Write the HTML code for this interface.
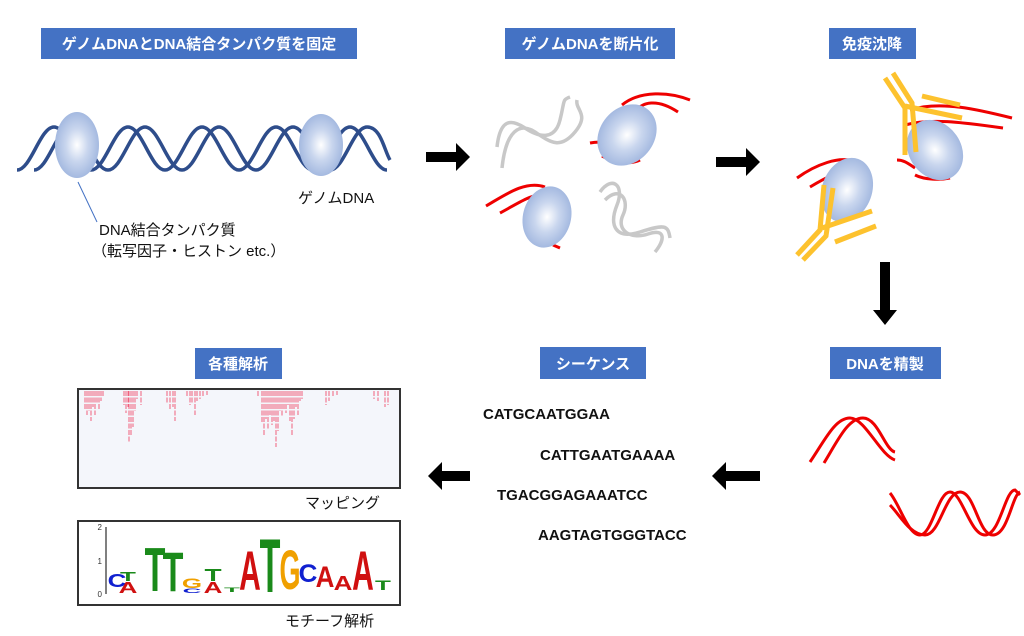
<!DOCTYPE html>
<html><head><meta charset="utf-8"><style>
body{margin:0;background:#fff;width:1024px;height:636px;overflow:hidden}
svg{display:block}
.lb{fill:#4472C4}
.lt{fill:#fff;font:bold 15px "Liberation Sans","Noto Sans CJK JP",sans-serif}
.t{fill:#111;font:15px "Liberation Sans","Noto Sans CJK JP",sans-serif}
.sq{fill:#111;font:bold 15px "Liberation Sans",sans-serif}
.m{font:bold 20px "Liberation Sans",sans-serif;text-anchor:middle}
</style></head><body>
<svg width="1024" height="636" viewBox="0 0 1024 636" xmlns="http://www.w3.org/2000/svg">
<defs>
<radialGradient id="eg" cx="50%" cy="50%" r="50%"><stop offset="0" stop-color="#fff"/><stop offset="0.5" stop-color="#C9D6EE"/><stop offset="1" stop-color="#A4B9E0"/></radialGradient>
</defs>
<rect class="lb" x="41" y="28" width="316" height="31"/><text class="lt" x="199" y="49" text-anchor="middle">ゲノムDNAとDNA結合タンパク質を固定</text>
<rect class="lb" x="505" y="28" width="170" height="31"/><text class="lt" x="590" y="49" text-anchor="middle">ゲノムDNAを断片化</text>
<rect class="lb" x="829" y="28" width="87" height="31"/><text class="lt" x="872" y="49" text-anchor="middle">免疫沈降</text>
<rect class="lb" x="195" y="348" width="87" height="31"/><text class="lt" x="238" y="369" text-anchor="middle">各種解析</text>
<rect class="lb" x="540" y="347" width="106" height="32"/><text class="lt" x="593" y="369" text-anchor="middle">シーケンス</text>
<rect class="lb" x="830" y="347" width="111" height="32"/><text class="lt" x="885" y="369" text-anchor="middle">DNAを精製</text>

<g fill="none" stroke="#2E4D8B" stroke-width="3.5">
<path d="M17 170 C31 170 40 127 54 127 S77 170 91 170 S114 127 128 127 S151 170 165 170 S188 127 202 127 S225 170 239 170 S262 127 276 127 S299 170 313 170 S336 127 350 127 S373 170 387 170"/>
<path d="M34 170 C48 170 57 127 71 127 S94 170 108 170 S131 127 145 127 S168 170 182 170 S205 127 219 127 S242 170 256 170 S279 127 293 127 S316 170 330 170 S353 127 367 127 S384 150 390 160"/>
</g>
<ellipse cx="77" cy="145" rx="22" ry="33" fill="url(#eg)"/>
<ellipse cx="321" cy="145" rx="22" ry="31" fill="url(#eg)"/>
<line x1="78" y1="182" x2="97" y2="222" stroke="#4472C4" stroke-width="1"/>
<text class="t" x="99" y="235">DNA結合タンパク質</text>
<text class="t" x="92" y="256">（転写因子・ヒストン etc.）</text>
<text class="t" x="298" y="203">ゲノムDNA</text>

<g fill="#000">
<path d="M426 152h30v-9l14 14-14 14v-9h-30z"/>
<path d="M716 157h30v-9l14 14-14 14v-9h-30z"/>
<path d="M880 262h10v48h7l-12 15-12-15h7z"/>
<path d="M760 471h-34v-9l-14 14 14 14v-9h34z"/>
<path d="M470 471h-28v-9l-14 14 14 14v-9h28z"/>
</g>

<g fill="none" stroke="#C8C8C8" stroke-width="3.5">
<path d="M497 147 C500 120 510 118 525 128 S555 140 560 120 S562 100 570 97"/>
<path d="M502 168 C506 130 520 122 535 132 S560 150 575 132 S575 110 577 100"/>
<path d="M600 192 C612 175 625 185 617 205 S615 240 640 232 S668 225 670 238"/>
<path d="M605 200 C620 185 630 200 623 215 S630 240 648 234 S665 240 655 252"/>
</g>
<g fill="none" stroke="#E00" stroke-width="3">
<path d="M622 105 C640 90 670 92 690 100"/><path d="M632 118 C640 98 660 100 678 112"/>
<path d="M590 143 C605 140 615 145 625 150"/><path d="M602 156 C615 163 630 165 640 160"/>
<path d="M486 206 C505 195 525 180 545 187"/><path d="M500 213 C515 205 530 195 540 195"/>
<path d="M553 245 L560 248"/>
</g>
<ellipse cx="627" cy="135" rx="27" ry="33" transform="rotate(40 627 135)" fill="url(#eg)"/>
<ellipse cx="547" cy="217" rx="24" ry="31" transform="rotate(15 547 217)" fill="url(#eg)"/>

<g fill="none" stroke="#E00" stroke-width="3">
<path d="M797 178 C815 165 840 155 855 162"/><path d="M810 187 C825 178 840 170 850 172"/>
<path d="M910 110 C940 100 980 110 1012 118"/><path d="M905 125 C930 118 960 122 1003 128"/>
<path d="M897 160 C905 160 910 165 915 168"/><path d="M915 175 C925 180 940 180 950 178"/>
</g>
<ellipse cx="847" cy="190" rx="25" ry="33" transform="rotate(20 847 190)" fill="url(#eg)"/>
<ellipse cx="935" cy="150" rx="26" ry="32" transform="rotate(-35 935 150)" fill="url(#eg)"/>
<g stroke="#FDC22E" stroke-width="5" fill="none">
<path d="M797 255 L820 230 L824 185"/><path d="M803 260 L826 236 L833 188"/>
<path d="M822 228 L872 211"/><path d="M835 242 L876 226"/>
<path d="M885 78 L905 108 L905 155"/><path d="M893 73 L912 103 L916 152"/>
<path d="M905 106 L962 118"/><path d="M922 96 L960 105"/>
</g>

<g fill="none" stroke="#E00" stroke-width="3">
<path d="M810 462 C825 440 835 418 850 418 S880 455 895 460"/>
<path d="M824 463 C838 440 848 418 863 418 S885 450 895 452"/>
<path d="M890 493 C900 505 908 535 920 535 S938 492 950 492 S970 535 985 535 S1005 490 1015 490 L1020 495"/>
<path d="M890 505 C900 515 910 535 925 535 S945 492 960 492 S978 535 993 535 S1012 495 1020 492"/>
</g>

<text class="sq" x="483" y="419">CATGCAATGGAA</text>
<text class="sq" x="540" y="460">CATTGAATGAAAA</text>
<text class="sq" x="497" y="500">TGACGGAGAAATCC</text>
<text class="sq" x="538" y="540">AAGTAGTGGGTACC</text>

<rect x="78" y="389" width="322" height="99" fill="#F4F6FB" stroke="#333" stroke-width="2"/>
<g stroke="#F0506E" stroke-width="0.9" stroke-dasharray="5 1.5">
<path d="M85 391v18M87 391v24M89 391v20M91 391v30M93 391v16M95 391v24M97 391v12M99 391v18M101 391v10M103 391v6"/>
<path d="M124 391v14M126 391v22M128 391v16M129 391v52M131 391v44M133 391v36M135 391v20M137 391v8M141 391v14"/>
<path d="M167 391v12M170 391v18M173 391v16M175 391v30M187 391v6M190 391v14M192 391v12M195 391v24M197 391v10M200 391v8M203 391v6M207 391v4"/>
<path d="M258 391v6M262 391v32M264 391v44M266 391v28M268 391v38M270 391v24M272 391v34M274 391v30M276 391v56M278 391v40M280 391v20M282 391v26M284 391v18M286 391v22M288 391v14M290 391v30M292 391v44M294 391v28M296 391v16M298 391v24M300 391v10M302 391v8"/>
<path d="M326 391v14M329 391v10M333 391v6M337 391v4M374 391v8M378 391v10M385 391v16M388 391v14"/>
</g>
<text class="t" x="305" y="508" font-weight="bold">マッピング</text>

<rect x="78" y="521" width="322" height="84" fill="#fff" stroke="#333" stroke-width="2"/>
<line x1="106" y1="527" x2="106" y2="594" stroke="#555" stroke-width="1.5"/>
<g font-family="Liberation Sans" font-size="8" fill="#333" text-anchor="end"><text x="102" y="530">2</text><text x="102" y="564">1</text><text x="102" y="597">0</text></g>
<g class="m">
<text fill="#1020D0" transform="translate(117,587) scale(1.3,0.9)">C</text>
<text fill="#1A8A1A" transform="translate(128,581) scale(1.3,0.65)">T</text>
<text fill="#D01010" transform="translate(128,593) scale(1.3,0.8)">A</text>
<text fill="#1A8A1A" transform="translate(155,591) scale(1.7,3.1)">T</text>
<text fill="#1A8A1A" transform="translate(173,591) scale(1.7,2.8)">T</text>
<text fill="#F0A000" transform="translate(192,588) scale(1.3,0.7)">G</text>
<text fill="#1020D0" transform="translate(192,593) scale(1.3,0.3)">C</text>
<text fill="#1A8A1A" transform="translate(213,581) scale(1.4,0.9)">T</text>
<text fill="#D01010" transform="translate(213,593) scale(1.3,0.8)">A</text>
<text fill="#1A8A1A" transform="translate(232,592) scale(1.3,0.3)">T</text>
<text fill="#D01010" transform="translate(250,590) scale(1.5,2.8)">A</text>
<text fill="#1A8A1A" transform="translate(270,592) scale(1.7,3.8)">T</text>
<text fill="#F0A000" transform="translate(290,589) scale(1.35,2.8)">G</text>
<text fill="#1020D0" transform="translate(308,582) scale(1.3,1.25)">C</text>
<text fill="#D01010" transform="translate(325,587) scale(1.3,1.5)">A</text>
<text fill="#D01010" transform="translate(343,590) scale(1.3,1.0)">A</text>
<text fill="#D01010" transform="translate(363,590) scale(1.5,2.8)">A</text>
<text fill="#1A8A1A" transform="translate(383,590) scale(1.3,0.7)">T</text>
</g>
<text class="t" x="285" y="626" font-weight="bold">モチーフ解析</text>
</svg>
</body></html>
